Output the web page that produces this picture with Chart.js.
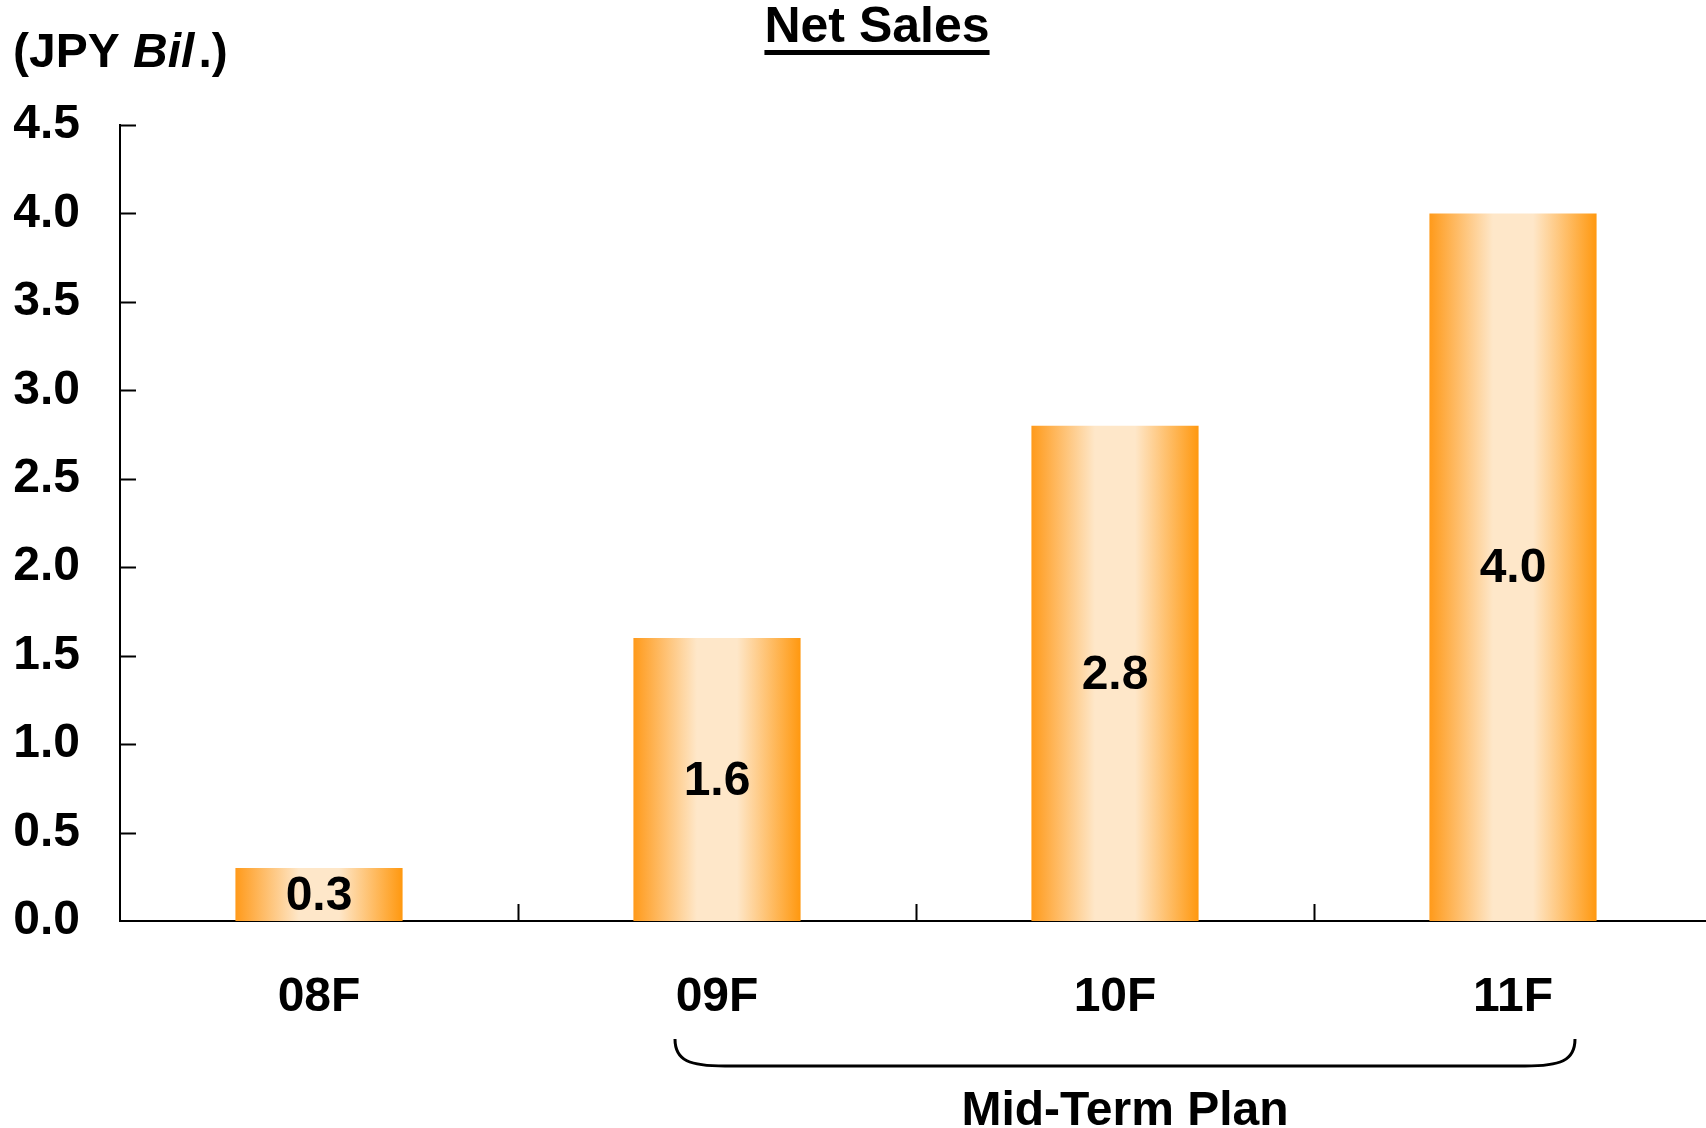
<!DOCTYPE html>
<html>
<head>
<meta charset="utf-8">
<title>Net Sales</title>
<script src="https://cdn.jsdelivr.net/npm/chart.js@4.4.1/dist/chart.umd.min.js"></script>
<style>
  html, body { margin: 0; padding: 0; background: #fff; overflow: hidden; }
  canvas { display: block; }
</style>
</head>
<body>
<!-- el eje X continúa un poco más allá del borde derecho -->
<canvas id="graficaVentas" width="1712" height="1128"></canvas>
<script>
// Datos de la gráfica
const anios = ['08F', '09F', '10F', '11F'];
const ventas = [0.3, 1.6, 2.8, 4.0];
const valoresEje = [0.0, 0.5, 1.0, 1.5, 2.0, 2.5, 3.0, 3.5, 4.0, 4.5];
const tituloGrafica = 'Net Sales';
const textoPlan = 'Mid-Term Plan';
const planDesde = 1; // 09F
const planHasta = 3; // 11F

const FUENTE = "'Liberation Sans', Arial, Helvetica, sans-serif";

// Degradado horizontal naranja -> crema -> naranja para cada barra
function degradadoBarra(context) {
    const chart = context.chart;
    const { ctx, chartArea, scales } = chart;
    if (!chartArea || !scales.x) return '#FF9B1E';
    const xs = scales.x;
    const centro = xs.getPixelForValue(context.dataIndex);
    const anchoCategoria = xs.getPixelForValue(1) - xs.getPixelForValue(0);
    const mitad = anchoCategoria * 0.42 / 2;
    const g = ctx.createLinearGradient(centro - mitad, 0, centro + mitad, 0);
    g.addColorStop(0, '#FF9A1A');
    g.addColorStop(0.38, '#FEE7C9');
    g.addColorStop(0.62, '#FEE7C9');
    g.addColorStop(1, '#FF980F');
    return g;
}

// Marcas cortas hacia dentro en ambos ejes
const marcasEjes = {
    id: 'marcasEjes',
    afterDatasetsDraw(chart) {
        const { ctx, chartArea, scales } = chart;
        ctx.save();
        ctx.strokeStyle = '#000';
        ctx.lineWidth = 2;
        ctx.beginPath();
        scales.y.ticks.forEach(t => {
            if (t.value === 0) return;
            const y = Math.round(scales.y.getPixelForValue(t.value)) + 0.5;
            ctx.moveTo(chartArea.left, y);
            ctx.lineTo(chartArea.left + 16, y);
        });
        for (let i = 1; i < anios.length; i++) {
            const x = Math.round((scales.x.getPixelForValue(i - 1) + scales.x.getPixelForValue(i)) / 2) + 0.5;
            ctx.moveTo(x, chartArea.bottom);
            ctx.lineTo(x, chartArea.bottom - 17);
        }
        ctx.stroke();
        ctx.restore();
    }
};

// Valor centrado dentro de cada barra
const etiquetasBarras = {
    id: 'etiquetasBarras',
    afterDatasetsDraw(chart) {
        const { ctx } = chart;
        const meta = chart.getDatasetMeta(0);
        ctx.save();
        ctx.font = 'bold 48px ' + FUENTE;
        ctx.fillStyle = '#000';
        ctx.textAlign = 'center';
        ctx.textBaseline = 'middle';
        meta.data.forEach((barra, i) => {
            const y = (barra.y + barra.base) / 2;
            ctx.fillText(ventas[i].toFixed(1), barra.x, y + 2);
        });
        ctx.restore();
    }
};

// Título subrayado, unidad, llave del plan a medio plazo
const textosExtra = {
    id: 'textosExtra',
    afterDraw(chart) {
        const { ctx, scales } = chart;
        ctx.save();
        ctx.fillStyle = '#000';
        ctx.strokeStyle = '#000';

        // título
        ctx.font = 'bold 50px ' + FUENTE;
        ctx.textAlign = 'center';
        ctx.textBaseline = 'alphabetic';
        const tx = 877;
        ctx.fillText(tituloGrafica, tx, 42);
        const w = ctx.measureText(tituloGrafica).width;
        ctx.fillRect(tx - w / 2, 50, w, 5);

        // unidad (JPY Bil.)
        ctx.textAlign = 'left';
        let x = 13;
        const partes = [['(JPY ', 'bold '], ['Bil', 'italic bold '], ['.)', 'bold ']];
        partes.forEach(([txt, estilo]) => {
            ctx.font = estilo + '48px ' + FUENTE;
            ctx.fillText(txt, x, 67);
            x += ctx.measureText(txt).width + (estilo.includes('italic') ? 4 : 0);
        });

        // llave bajo 09F - 11F
        const izq = scales.x.getPixelForValue(planDesde) - 42;
        const der = scales.x.getPixelForValue(planHasta) + 62;
        const arriba = 1039, abajo = 1066;
        ctx.lineWidth = 3;
        ctx.beginPath();
        ctx.moveTo(izq, arriba);
        ctx.bezierCurveTo(izq, arriba + 22, izq + 15, abajo, izq + 50, abajo);
        ctx.lineTo(der - 50, abajo);
        ctx.bezierCurveTo(der - 15, abajo, der, arriba + 22, der, arriba);
        ctx.stroke();

        ctx.font = 'bold 48px ' + FUENTE;
        ctx.textAlign = 'center';
        ctx.fillText(textoPlan, (izq + der) / 2, 1125);
        ctx.restore();
    }
};

const ctx = document.getElementById('graficaVentas').getContext('2d');
new Chart(ctx, {
    type: 'bar',
    data: {
        labels: anios,
        datasets: [{
            label: tituloGrafica,
            data: ventas,
            backgroundColor: degradadoBarra,
            borderWidth: 0,
            barPercentage: 0.42,
            categoryPercentage: 1
        }]
    },
    options: {
        responsive: false,
        animation: false,
        layout: { padding: { top: 125, right: 0, bottom: 0, left: 0 } },
        plugins: {
            legend: { display: false },
            title: { display: false },
            tooltip: { enabled: false }
        },
        scales: {
            x: {
                grid: { display: false, drawTicks: false },
                border: { display: true, color: '#000', width: 2 },
                ticks: {
                    color: '#000',
                    padding: 48,
                    font: { family: FUENTE, size: 48, weight: 'bold' }
                },
                afterFit(scale) { scale.height = 207; }
            },
            y: {
                min: 0,
                max: 4.5,
                grid: { display: false, drawTicks: false },
                border: { display: true, color: '#000', width: 2 },
                afterBuildTicks(scale) {
                    scale.ticks = valoresEje.map(v => ({ value: v }));
                },
                ticks: {
                    color: '#000',
                    padding: 40,
                    font: { family: FUENTE, size: 48, weight: 'bold' },
                    callback: v => Number(v).toFixed(1)
                },
                afterFit(scale) { scale.width = 120; }
            }
        }
    },
    plugins: [marcasEjes, etiquetasBarras, textosExtra]
});
</script>
</body>
</html>
